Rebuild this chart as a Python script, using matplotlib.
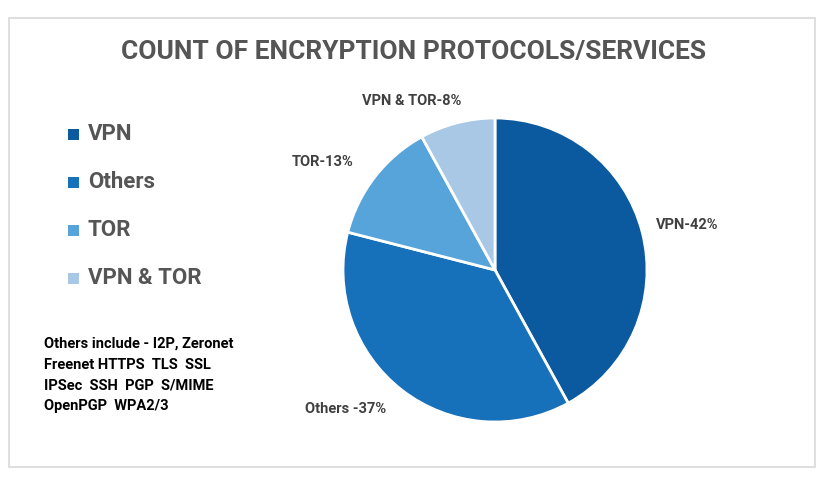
import matplotlib
matplotlib.use('Agg')
import matplotlib.pyplot as plt
from matplotlib.patches import Rectangle

labels = ['VPN', 'Others', 'TOR', 'VPN & TOR']
values = [42, 37, 13, 8]
pct_labels = ['VPN-42%', 'Others -37%', 'TOR-13%', 'VPN & TOR-8%']
colors = ['#0B5AA0', '#1670BA', '#56A4DA', '#A9C8E6']
note_lines = ['Others include - I2P, Zeronet',
              'Freenet HTTPS  TLS  SSL',
              'IPSec  SSH  PGP  S/MIME',
              'OpenPGP  WPA2/3']

W, H = 832, 490
FONT = ['Roboto', 'DejaVu Sans']


def fx(px):
    return px / W


def fy(py):
    return 1 - py / H


def main():
    fig = plt.figure(figsize=(W / 100, H / 100), dpi=100)
    fig.patch.set_facecolor('white')

    # chart frame
    fig.patches.append(Rectangle((fx(9), fy(467)), fx(815) - fx(9), fy(18) - fy(467),
                                 transform=fig.transFigure, fill=False,
                                 edgecolor='#D9D9D9', linewidth=1.2))

    fig.text(fx(414), fy(52), 'COUNT OF ENCRYPTION PROTOCOLS/SERVICES',
             ha='center', va='center', fontsize=19, fontweight='bold',
             color='#555555', family=FONT)

    # pie
    ax = fig.add_axes([fx(343), fy(422), fx(647) - fx(343), fy(118) - fy(422)])
    ax.pie(values, colors=colors, startangle=90, counterclock=False,
           radius=1, wedgeprops={'edgecolor': 'white', 'linewidth': 2})
    ax.set_xlim(-1, 1)
    ax.set_ylim(-1, 1)
    ax.set_aspect('equal')
    ax.axis('off')

    label_pos = [(656, 225, 'left'), (346, 409, 'center'),
                 (323, 162, 'center'), (412, 101, 'center')]
    for (x, y, ha), t in zip(label_pos, pct_labels):
        fig.text(fx(x), fy(y), t, ha=ha, va='center', fontsize=10.5,
                 fontweight='bold', color='#404040', family=FONT)

    # legend
    for i, (lab, c) in enumerate(zip(labels, colors)):
        y = 134 + i * 48
        fig.patches.append(Rectangle((fx(68), fy(y + 6)), fx(11), fy(y - 5) - fy(y + 6),
                                     transform=fig.transFigure, facecolor=c,
                                     edgecolor='none'))
        fig.text(fx(88), fy(y), lab, ha='left', va='center', fontsize=16,
                 fontweight='bold', color='#555555', family=FONT)

    for i, line in enumerate(note_lines):
        fig.text(fx(44), fy(344 + i * 20.5), line, ha='left', va='center',
                 fontsize=10.5, fontweight='bold', color='black', family=FONT)

    fig.savefig('out.png', dpi=100)


if __name__ == "__main__": main()
